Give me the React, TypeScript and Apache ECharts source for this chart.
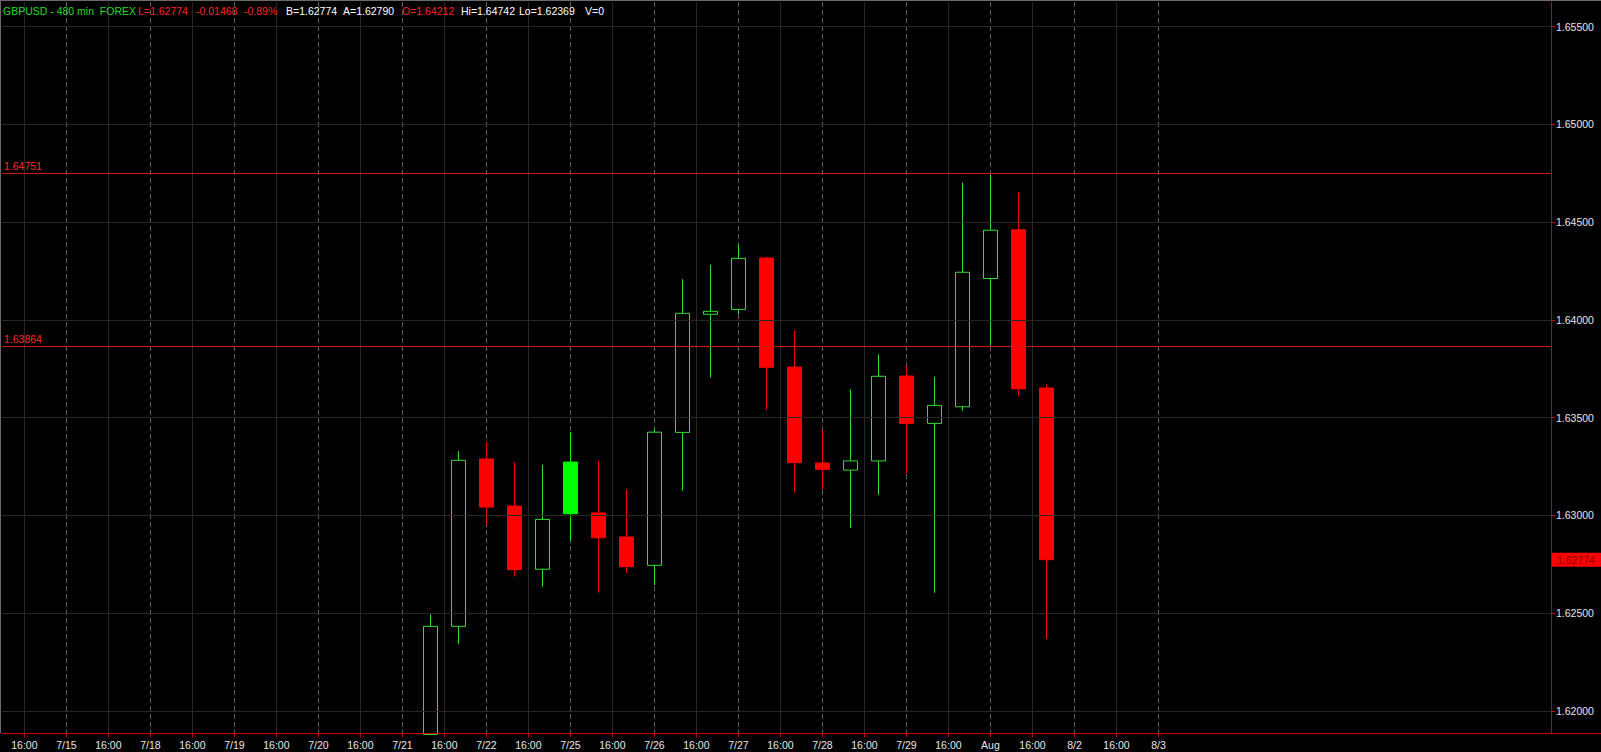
import React, { useEffect, useRef } from "react";
import * as echarts from "echarts";

// ---- data ----
const candleX = [16, 17, 18, 19, 20, 21, 22, 23, 24, 25, 26, 27, 28, 29, 30, 31, 32, 33, 34, 35, 36, 37, 38];
const opens = [1.6188, 1.62433, 1.63289, 1.63048, 1.62725, 1.63009, 1.63013, 1.6289, 1.62745, 1.63425, 1.64029, 1.64054, 1.64317, 1.63759, 1.63268, 1.63232, 1.63279, 1.63713, 1.63471, 1.63556, 1.64212, 1.64461, 1.63652];
const closes = [1.62433, 1.63282, 1.63043, 1.62723, 1.6298, 1.63273, 1.62886, 1.62738, 1.63426, 1.64034, 1.64044, 1.64315, 1.63758, 1.6327, 1.63236, 1.63279, 1.63712, 1.63471, 1.63563, 1.64244, 1.64459, 1.63648, 1.62774];
const lows = [1.6188, 1.62341, 1.62951, 1.62687, 1.62636, 1.62871, 1.62605, 1.62706, 1.62644, 1.63127, 1.63705, 1.64031, 1.63541, 1.63118, 1.63132, 1.62936, 1.63106, 1.63216, 1.62605, 1.63536, 1.63868, 1.63613, 1.62369];
const highs = [1.62495, 1.6333, 1.63376, 1.6327, 1.63258, 1.63427, 1.63279, 1.63135, 1.63445, 1.64208, 1.64281, 1.64383, 1.64324, 1.63944, 1.63437, 1.63645, 1.63824, 1.63764, 1.63708, 1.64702, 1.64742, 1.64654, 1.63671];
const filledUpX = [21];

const dates = ["7/14", "7/15", "7/18", "7/19", "7/20", "7/21", "7/22", "7/25", "7/26", "7/27", "7/28", "7/29", "Aug", "8/2", "8/3"];
const timeLabel = "16:00";
const yTicks = [1.62, 1.625, 1.63, 1.635, 1.64, 1.645, 1.65, 1.655];
const levelLines = [1.64751, 1.63864];
const lastPrice = 1.62774;

const headerParts = [
  { text: "GBPUSD - 480 min  FOREX", color: "#22dd22" },
  { text: "L=1.62774", color: "#ff2222" },
  { text: "-0.01468", color: "#ff2222" },
  { text: "-0.89%", color: "#ff2222" },
  { text: "B=1.62774", color: "#ffffff" },
  { text: "A=1.62790", color: "#ffffff" },
  { text: "O=1.64212", color: "#ff2222" },
  { text: "Hi=1.64742", color: "#ffffff" },
  { text: "Lo=1.62369", color: "#ffffff" },
  { text: "V=0", color: "#ffffff" },
];
const headerX = [3, 138, 196, 244, 286, 343, 402, 461, 519, 585];

const X_MIN = 0.7;
const X_MAX = 56.02;
const Y_MIN = 1.618874;
const Y_MAX = 1.656263;
const FONT = '"Liberation Sans", Arial, sans-serif';

export default function App() {
  const ref = useRef<HTMLDivElement>(null);

  useEffect(() => {
    if (!ref.current) return;
    document.body.style.margin = "0";
    document.body.style.background = "#000";
    const chart = echarts.init(ref.current, undefined, { renderer: "svg" });

    const labelValues: number[] = [];
    const dateValues: number[] = [];
    const timeValues: number[] = [];
    dates.forEach((_, i) => {
      if (i > 0) {
        labelValues.push(3 * i);
        dateValues.push(3 * i);
      }
      if (i < dates.length - 1) {
        labelValues.push(3 * i + 1.5);
        timeValues.push(3 * i + 1.5);
      }
    });
    labelValues.sort((a, b) => a - b);

    const data = candleX.map((x, i) => {
      const item: any = { value: [x, opens[i], closes[i], lows[i], highs[i]] };
      if (filledUpX.includes(x)) {
        item.itemStyle = { color: "#00ff00", borderColor: "#00ff00" };
      }
      return item;
    });

    const hiddenAxisBase = {
      type: "value",
      min: X_MIN,
      max: X_MAX,
      gridIndex: 0,
      axisLine: { show: false },
      axisLabel: { show: false },
    };

    const option: any = {
      animation: false,
      backgroundColor: "#000",
      grid: { left: 2, right: 50, top: 2, bottom: 19, containLabel: false },
      xAxis: [
        {
          type: "value",
          min: X_MIN,
          max: X_MAX,
          position: "bottom",
          z: 5,
          axisLine: { show: true, lineStyle: { color: "#c80000", width: 1 } },
          axisTick: { show: true, length: 4, lineStyle: { color: "#c80000" }, customValues: labelValues },
          axisLabel: {
            customValues: labelValues,
            color: "#e6e6e6",
            fontSize: 10.5,
            fontFamily: FONT,
            margin: 6,
            formatter: (v: number) => {
              const k = v / 3;
              if (Math.abs(k - Math.round(k)) < 1e-6) return dates[Math.round(k)];
              return timeLabel;
            },
          },
          splitLine: { show: false },
        },
        {
          ...hiddenAxisBase,
          position: "top",
          axisTick: { show: false, customValues: dateValues },
          splitLine: { show: true, lineStyle: { color: "#5e5e5e", width: 1, type: [5, 3] } },
        },
        {
          ...hiddenAxisBase,
          position: "top",
          offset: 0,
          axisTick: { show: false, customValues: timeValues },
          splitLine: { show: true, lineStyle: { color: "#262626", width: 1, type: "solid" } },
        },
      ],
      yAxis: {
        type: "value",
        position: "right",
        min: Y_MIN,
        max: Y_MAX,
        scale: true,
        z: 5,
        axisLine: { show: true, lineStyle: { color: "#c80000", width: 1 } },
        axisTick: { show: true, length: 4, lineStyle: { color: "#c80000" }, customValues: yTicks },
        axisLabel: {
          customValues: yTicks,
          color: "#e6e6e6",
          fontSize: 10.5,
          fontFamily: FONT,
          margin: 5,
          formatter: (v: number) => v.toFixed(5),
        },
        splitLine: { show: true, lineStyle: { color: "#262626", width: 1 } },
      },
      series: [
        {
          type: "candlestick",
          xAxisIndex: 0,
          yAxisIndex: 0,
          barWidth: 15,
          clip: true,
          data,
          itemStyle: {
            color: "#000000",
            color0: "#ff0000",
            borderColor: "#33dd33",
            borderColor0: "#ff0000",
            borderWidth: 1,
          },
        },
        {
          type: "line",
          xAxisIndex: 0,
          yAxisIndex: 0,
          data: [],
          markLine: {
            silent: true,
            symbol: "none",
            precision: 5,
            animation: false,
            data: [
              ...levelLines.map((v) => ({
                yAxis: v,
                lineStyle: { color: "#d01818", width: 1, type: "solid" },
                label: {
                  show: true,
                  position: "insideStartTop",
                  distance: [2, 2],
                  color: "#ff2a2a",
                  fontSize: 10.5,
                  fontFamily: FONT,
                  formatter: () => v.toFixed(5),
                },
              })),
              {
                yAxis: lastPrice,
                lineStyle: { color: "rgba(0,0,0,0)", width: 0 },
                label: {
                  show: true,
                  position: "end",
                  distance: 1,
                  color: "#8a0000",
                  backgroundColor: "#ff0000",
                  padding: [2, 6, 1, 5],
                  fontSize: 10.5,
                  fontFamily: FONT,
                  formatter: () => lastPrice.toFixed(5),
                },
              },
            ],
          },
        },
      ],
      graphic: [
        { type: "line", shape: { x1: 0.5, y1: 0, x2: 0.5, y2: 733 }, style: { stroke: "#6a6a6a", lineWidth: 1 }, z: 50 },
        { type: "line", shape: { x1: 0, y1: 0.5, x2: 1601, y2: 0.5 }, style: { stroke: "#6a6a6a", lineWidth: 1 }, z: 50 },
        { type: "line", shape: { x1: 1551, y1: 733.5, x2: 1601, y2: 733.5 }, style: { stroke: "#c80000", lineWidth: 1 }, z: 50 },
        ...headerParts.map((p, i) => ({
          type: "text",
          x: headerX[i],
          y: 11,
          z: 60,
          style: {
            text: p.text,
            fill: p.color,
            font: `10.5px ${FONT}`,
            verticalAlign: "middle",
            textVerticalAlign: "middle",
          },
        })),
      ],
    };

    chart.setOption(option);
    return () => chart.dispose();
  }, []);

  return (
    <div
      ref={ref}
      style={{ position: "absolute", left: 0, top: 0, width: 1601, height: 752, background: "#000" }}
    />
  );
}
